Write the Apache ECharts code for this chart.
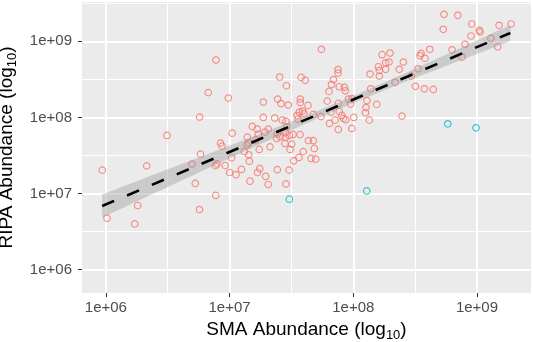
<!DOCTYPE html>
<html>
<head>
<meta charset="utf-8">
<script src="https://cdn.jsdelivr.net/npm/echarts@6/dist/echarts.min.js"></script>
<style>
  html, body { margin: 0; padding: 0; background: #fff; }
  #chart { width: 533px; height: 342px; }
</style>
</head>
<body>
<div id="chart"></div>
<script>
// values are log10 of abundance
const redSMA = [
  5.971, 6.009, 6.233, 6.257, 6.330, 6.494, 6.696, 6.723, 6.758, 6.765, 6.757, 6.828, 6.888, 6.886, 6.898, 6.890,
  6.927, 6.939, 6.965, 7.001, 7.017, 7.052, 7.096, 7.119, 7.155, 7.160, 7.165, 7.141, 7.153, 7.226, 7.244, 7.240,
  7.292, 7.313, 7.327, 7.386, 7.448, 7.502, 7.489, 7.519, 7.481, 7.456, 7.561,
  6.990, 7.022, 7.143, 7.184, 7.224, 7.232, 7.287, 7.313, 7.210, 7.273, 7.365, 7.426, 7.456, 7.462, 7.386, 7.451,
  7.451, 7.483, 7.513, 7.381, 7.408, 7.273, 7.389, 7.416, 7.475, 7.405, 7.459, 7.545, 7.553, 7.564, 7.572, 7.572, 7.570,
  7.578, 7.612, 7.634, 7.591, 7.602, 7.677, 7.739, 7.742, 7.790, 7.804, 7.840, 7.824, 7.877, 7.877, 7.887, 7.928,
  7.936, 7.879, 7.820, 7.887, 7.907, 7.920, 7.939, 7.853, 7.808, 7.879, 7.988, 8.004, 7.962, 7.990, 7.978, 8.111,
  8.103, 8.099, 8.130, 8.136, 7.596, 7.658, 7.696, 7.685, 7.637, 7.677, 8.141,
  8.190, 8.394, 8.734, 8.845, 8.728, 8.958, 9.019, 9.025, 9.179, 9.276, 8.952, 8.904, 8.799, 9.112, 9.168, 8.879,
  8.618, 8.548, 8.540, 8.580, 8.524, 8.470, 8.405, 8.372, 8.297, 8.233, 8.289, 8.262, 8.203, 8.211, 8.262, 8.211,
  8.502, 8.575, 8.647, 8.338
];
const redRIPA = [
  7.307, 6.675, 6.600, 6.842, 7.363, 7.763, 7.386, 7.132, 8.004, 7.517, 6.789, 8.326, 6.974, 7.366, 7.388, 8.754,
  7.662, 7.622, 7.368, 7.276, 7.471, 7.247, 7.316, 7.550, 7.508, 7.425, 7.162, 7.636, 7.664, 7.276, 7.326, 7.579,
  7.224, 7.118, 7.613, 7.313, 7.658, 7.649, 7.579, 7.429, 7.307, 7.126, 7.474,
  8.254, 7.793, 7.741, 7.882, 7.846, 7.780, 7.807, 7.846, 7.701, 8.000, 7.991, 7.964, 7.951, 7.876, 7.780, 7.797,
  7.737, 7.763, 7.776, 7.724, 7.747, 8.201, 8.241, 8.182, 8.162, 8.530, 8.416, 8.024, 7.978, 8.070, 8.241, 8.195, 7.774,
  8.526, 8.487, 8.158, 8.083, 8.050, 8.039, 8.011, 8.895, 8.214, 8.342, 8.497, 8.432, 8.629, 8.583, 8.403, 8.395,
  8.350, 8.184, 8.070, 8.079, 8.026, 7.987, 7.968, 7.964, 7.921, 7.842, 7.855, 8.000, 8.241, 8.247, 8.175, 8.221,
  8.129, 8.061, 7.964, 8.570, 7.550, 7.461, 7.451, 7.592, 7.695, 7.695, 8.376,
  8.171, 8.017, 9.355, 9.342, 9.158, 9.228, 9.145, 9.122, 9.211, 9.228, 9.070, 8.961, 8.889, 9.039, 8.929, 8.793,
  8.895, 8.842, 8.813, 8.776, 8.639, 8.543, 8.728, 8.632, 8.846, 8.824, 8.728, 8.718, 8.666, 8.618, 8.632, 8.543,
  8.408, 8.376, 8.368, 8.461
];
const blueSMA = [7.483, 8.109, 8.764, 8.993];
const blueRIPA = [6.925, 7.034, 7.916, 7.863];

// fitted line ends and the grey confidence band
const fitSMA = [5.97, 9.27];
const fitRIPA = [6.836, 9.110];
const bandSMA = [5.97, 6.4, 6.8, 7.2, 7.6, 8.0, 8.4, 8.8, 9.27];
const bandLow = [6.685, 7.011, 7.312, 7.612, 7.907, 8.189, 8.455, 8.710, 9.005];
const bandHigh = [6.987, 7.255, 7.504, 7.756, 8.013, 8.281, 8.567, 8.862, 9.215];

const tickValues = [6, 7, 8, 9];

const chart = echarts.init(document.getElementById("chart"));
const font = "Liberation Sans";

function axisName(text) {
  return "{t|" + text + " (log}{s|10}{t|)}";
}

function axisCommon(min, max, labelMargin) {
  return {
    type: "value",
    min: min,
    max: max,
    nameLocation: "middle",
    axisLine: { show: false },
    axisTick: {
      show: true,
      customValues: tickValues,
      length: 4,
      lineStyle: { color: "#333333", width: 1 },
    },
    axisLabel: {
      customValues: tickValues,
      color: "#4D4D4D",
      fontSize: 15,
      fontFamily: font,
      margin: labelMargin,
      formatter: (v) => "1e+0" + Math.round(v),
    },
    splitLine: { show: true, lineStyle: { color: "#FFFFFF", width: 2 } },
    minorTick: { show: false, splitNumber: 2 },
    minorSplitLine: { show: true, lineStyle: { color: "#FFFFFF", width: 1 } },
    nameTextStyle: {
      rich: {
        t: { fontSize: 19, color: "#000000", fontFamily: font, lineHeight: 24 },
        s: { fontSize: 13, color: "#000000", fontFamily: font, lineHeight: 24, verticalAlign: "bottom" },
      },
    },
  };
}

// grey ribbon: one polygon through the band points
function renderBand(params, api) {
  if (params.dataIndex !== 0) return null;
  const pts = [];
  for (let i = 0; i < bandSMA.length; i++) pts.push(api.coord([bandSMA[i], bandHigh[i]]));
  for (let i = bandSMA.length - 1; i >= 0; i--) pts.push(api.coord([bandSMA[i], bandLow[i]]));
  return {
    type: "polygon",
    shape: { points: pts },
    style: { fill: "rgba(153,153,153,0.4)" },
  };
}

chart.setOption({
  animation: false,
  grid: {
    left: 82,
    right: 2,
    top: 2,
    bottom: 49,
    show: true,
    backgroundColor: "#EBEBEB",
    borderWidth: 0,
    containLabel: false,
    outerBoundsMode: "none",
  },
  xAxis: Object.assign(axisCommon(5.807, 9.437, 7), {
    name: axisName("SMA Abundance"),
    nameGap: 25,
  }),
  yAxis: Object.assign(axisCommon(5.692, 9.517, 10), {
    name: axisName("RIPA Abundance"),
    nameGap: 60,
  }),
  series: [
    {
      name: "red",
      type: "scatter",
      symbol: "circle",
      symbolSize: 6.5,
      itemStyle: { color: "rgba(0,0,0,0)", borderColor: "#F8766D", borderWidth: 1.2 },
      data: redSMA.map((x, i) => [x, redRIPA[i]]),
      z: 2,
    },
    {
      name: "blue",
      type: "scatter",
      symbol: "circle",
      symbolSize: 6.5,
      itemStyle: { color: "rgba(0,0,0,0)", borderColor: "#00BFC4", borderWidth: 1.2 },
      data: blueSMA.map((x, i) => [x, blueRIPA[i]]),
      z: 2,
    },
    {
      name: "band",
      type: "custom",
      renderItem: renderBand,
      encode: { x: 0, y: [1, 2] },
      data: bandSMA.map((x, i) => [x, bandLow[i], bandHigh[i]]),
      z: 3,
    },
    {
      name: "fit",
      type: "line",
      symbol: "none",
      lineStyle: { color: "#000000", width: 2.6, type: [13, 14] },
      data: fitSMA.map((x, i) => [x, fitRIPA[i]]),
      z: 4,
    },
  ],
});
</script>
</body>
</html>
